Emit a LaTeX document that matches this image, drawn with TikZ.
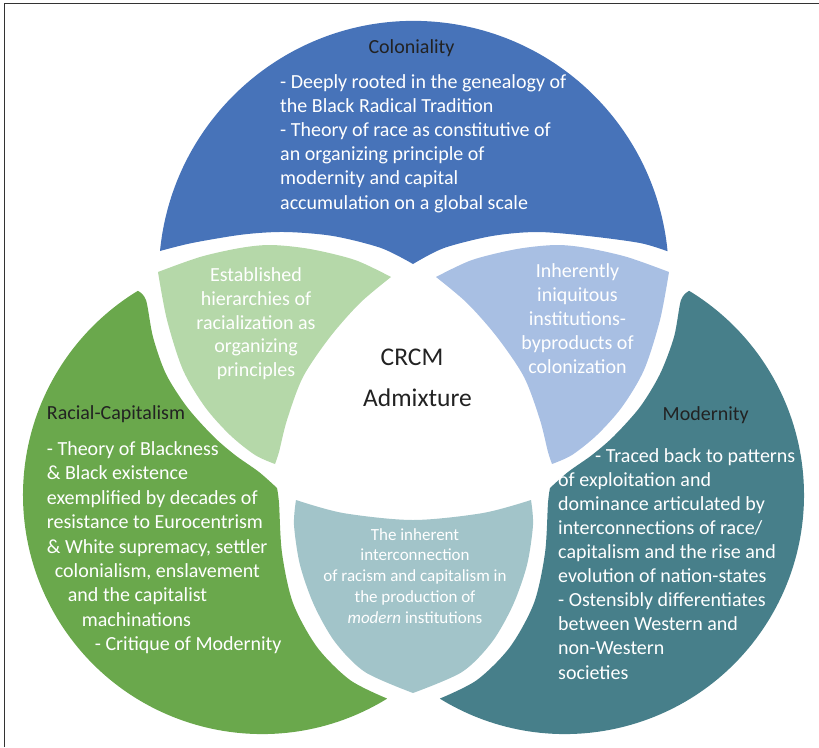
\documentclass[tikz,border=0pt]{standalone}
\usepackage{fontspec}
\setmainfont{Carlito}
\definecolor{cblue}{HTML}{4773B9}
\definecolor{cgreen}{HTML}{6AA84C}
\definecolor{cteal}{HTML}{477F8A}
\definecolor{clgreen}{HTML}{B5D8A9}
\definecolor{clblue}{HTML}{A8BFE3}
\definecolor{cgray}{HTML}{A2C4C9}
\definecolor{headc}{HTML}{222222}
\definecolor{framec}{HTML}{333333}
\begin{document}
\begin{tikzpicture}[x=1pt,y=-1pt,
  headtext/.style={text=headc, inner sep=0pt, font=\fontsize{20}{24.2}\selectfont},
  bodytext/.style={text=white, inner sep=0pt, align=left, font=\fontsize{20}{24.2}\selectfont},
  petaltext/.style={text=white, inner sep=0pt, align=center, font=\fontsize{20}{23.8}\selectfont},
  smalltext/.style={text=white, inner sep=0pt, align=center, font=\fontsize{17}{20.8}\selectfont},
  coretext/.style={text=headc, inner sep=0pt, font=\fontsize{25.5}{30}\selectfont}]
\useasboundingbox (0,0) rectangle (819,747);

% frame lines (left and top)
\coordinate (fbl) at (4.5,747);
\coordinate (ftl) at (4.5,3.5);
\coordinate (ftr) at (819,3.5);
\draw[framec, line width=1.3pt] (fbl) -- (ftl) -- (ftr);

% Coloniality
\fill[cblue] (160,251) arc[start angle=185.6, end angle=354.4, radius=255]
  -- plot[smooth] coordinates {(666.8,251) (640,243) (588,236) (537,232) (492,236) (444,248) (413,264)}
  -- plot[smooth] coordinates {(413,264) (381,248) (333,236) (285,232) (243,234.5) (192,243) (160,251)}
  -- cycle;

% Racial-Capitalism
\fill[cgreen] (387.2,698.6) arc[start angle=58.4, end angle=238.7, radius=239]
  -- plot[smooth] coordinates {(137.8,290.8) (146,300) (153,337) (166,374) (187,407) (213,436) (235,455) (259,472) (277,488)}
  -- plot[smooth] coordinates {(277,488) (279,503) (282,553) (293,603) (317,647) (350,680) (387.2,698.6)}
  -- cycle;

% Modernity
\fill[cteal] (439.8,698.6) arc[start angle=121.6, end angle=-58.7, radius=239]
  -- plot[smooth] coordinates {(689.2,290.8) (681,300) (674,337) (660,374) (640,407) (614,436) (592,455) (568,472) (550,488)}
  -- plot[smooth] coordinates {(550,488) (548,503) (545,553) (534,603) (510,647) (477,680) (439.8,698.6)}
  -- cycle;

% overlap petals
\fill[clgreen] plot[smooth] coordinates {(158,272) (200,257) (240,248) (271,245) (310,249) (355,260) (391,277)}
  -- plot[smooth] coordinates {(391,277) (360,303) (330,337) (303,377) (287,420) (279,452) (275,464)}
  -- plot[smooth] coordinates {(275,464) (255,455) (230,435) (205,407) (183,370) (167,320) (158,272)}
  -- cycle;
\fill[clblue] plot[smooth] coordinates {(436,277) (472,260) (517,249) (556,245) (587,248) (627,257) (669,272)}
  -- plot[smooth] coordinates {(669,272) (660,320) (644,370) (622,407) (597,435) (572,455) (552,464)}
  -- plot[smooth] coordinates {(552,464) (548,452) (540,420) (524,377) (497,337) (467,303) (436,277)}
  -- cycle;
\fill[cgray] plot[smooth] coordinates {(296,500) (343,513) (413,520) (483,513) (531,500)}
  -- plot[smooth] coordinates {(531,500) (533,525) (527,565) (513,605) (492,642) (462,672) (413,693)}
  -- plot[smooth] coordinates {(413,693) (365,672) (335,642) (314,605) (300,565) (294,525) (296,500)}
  -- cycle;

% texts (multi-line nodes sit on the baseline of their last line)
\node[headtext, anchor=base] (tcol) at (411.5,53) {Coloniality};
\node[bodytext, anchor=base west] (bcol) at (280,209) {- Deeply rooted in the genealogy of\\the Black Radical Tradition\\- Theory of race as constitutive of\\an organizing principle of\\modernity and capital\\accumulation on a global scale};

\node[headtext, anchor=base west] (trc) at (46.7,419) {Racial-Capitalism};
\node[bodytext, anchor=base west, font=\fontsize{20}{24.4}\selectfont] (brc) at (46.7,650.7) {- Theory of Blackness\\\& Black existence\\exemplified by decades of\\resistance to Eurocentrism\\\& White supremacy, settler\\\hspace*{8pt}colonialism, enslavement\\\hspace*{21pt}and the capitalist\\\hspace*{35pt}machinations\\\hspace*{48pt}- Critique of Modernity};

\node[headtext, anchor=base] (tmod) at (705.7,420.7) {Modernity};
\node[bodytext, anchor=base west, font=\fontsize{20}{24.1}\selectfont] (bmod) at (558,679) {\hspace*{37pt}- Traced back to patterns\\of exploitation and\\dominance articulated by\\interconnections of race/\\capitalism and the rise and\\evolution of nation-states\\- Ostensibly differentiates\\between Western and\\non-Western\\societies};

\node[petaltext, anchor=base] (pbg) at (256,376.7) {Established\\hierarchies of\\racialization as\\organizing\\principles};
\node[petaltext, anchor=base] (pbt) at (577.5,373) {Inherently\\iniquitous\\institutions-\\byproducts of\\colonization};
\node[smalltext, anchor=base] (pgt) at (415,623.3) {The inherent\\interconnection\\of racism and capitalism in\\the production of\\\textit{modern} institutions};

\node[coretext, anchor=base] (crcm) at (412,365) {CRCM};
\node[coretext, anchor=base] (admx) at (417.5,406) {Admixture};
\end{tikzpicture}
\end{document}
